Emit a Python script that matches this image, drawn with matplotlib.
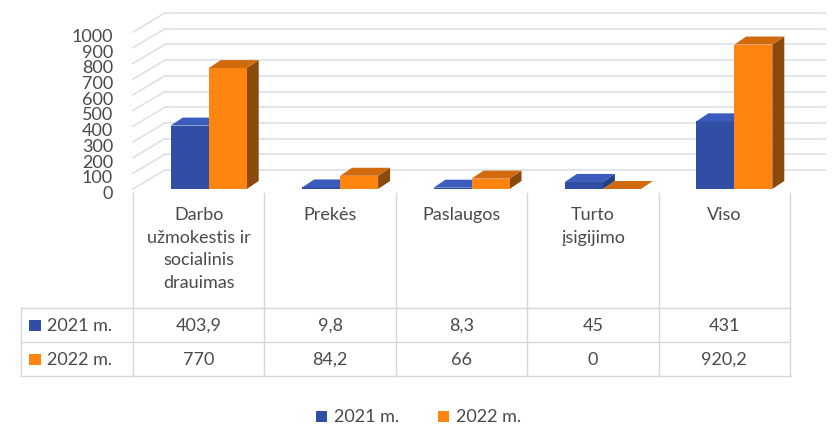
import matplotlib.pyplot as plt
from matplotlib.patches import Rectangle, Polygon
from matplotlib.transforms import offset_copy

# data
categories = ['Darbo\nužmokestis ir\nsocialinis\ndrauimas', 'Prekės', 'Paslaugos',
              'Turto\nįsigijimo', 'Viso']
series_names = ['2021 m.', '2022 m.']
values_2021 = [403.9, 9.8, 8.3, 45, 431]
values_2022 = [770, 84.2, 66, 0, 920.2]
labels_2021 = ['403,9', '9,8', '8,3', '45', '431']
labels_2022 = ['770', '84,2', '66', '0', '920,2']
yticks = list(range(0, 1001, 100))

W, H = 838, 428
plt.rcParams['font.family'] = ['Lato', 'DejaVu Sans']
txt_color = '#4a4a4a'
grid_color = '#dbe2ea'
line_color = '#d4d8dc'

fig = plt.figure(figsize=(W / 100, H / 100), dpi=100)
fig.patch.set_facecolor('white')

# overlay in pixel coords for the table and legend
ov = fig.add_axes([0, 0, 1, 1])
ov.set_xlim(0, W)
ov.set_ylim(H, 0)
ov.axis('off')

# chart axes: front plane
x_left, x_right = 133, 790
y_zero, y_top = 189, 32
ax = fig.add_axes([x_left / W, 1 - y_zero / H, (x_right - x_left) / W, (y_zero - y_top) / H])
ax.set_xlim(-0.5, len(categories) - 0.5)
ax.set_ylim(0, 1000)
ax.patch.set_alpha(0)
for s in ax.spines.values():
    s.set_visible(False)
ax.set_xticks([])
ax.set_yticks([])

# y labels, sitting a little below the front plane like the original
lab_tr = offset_copy(ax.get_yaxis_transform(), fig=fig, x=-20, y=-5, units='dots')
for v in yticks:
    ax.text(0, v, str(v), transform=lab_tr, ha='right', va='center',
            fontsize=13, color=txt_color)

px_x = (len(categories)) / (x_right - x_left)   # data units per pixel (x)
px_y = 1000 / (y_zero - y_top)                   # data units per pixel (y)

# back wall grid + left wall diagonals
wall_dx, wall_dy = 32 * px_x, 19 * px_y
back_right = len(categories) - 0.5 + 35 * px_x
for v in yticks:
    ax.plot([-0.5 + wall_dx, back_right], [v + wall_dy, v + wall_dy],
            color=grid_color, lw=1.2, clip_on=False, zorder=0)
    ax.plot([-0.5, -0.5 + wall_dx], [v, v + wall_dy],
            color=grid_color, lw=1.2, clip_on=False, zorder=0)

# fake 3D bars
bw = 38 * px_x
shift = 10 * px_x
dx, dy = 12 * px_x, 8 * px_y
styles = [
    dict(front='#2f4ea4', top='#3b5cbc', side='#243f88'),
    dict(front='#ff8410', top='#d06a0c', side='#8a4a0e'),
]


def bar3d(x0, h, st, z):
    ax.add_patch(Rectangle((x0, 0), bw, h, facecolor=st['front'], edgecolor='none',
                           zorder=z, clip_on=False))
    ax.add_patch(Polygon([(x0, h), (x0 + bw, h), (x0 + bw + dx, h + dy), (x0 + dx, h + dy)],
                         closed=True, facecolor=st['top'], edgecolor='none', zorder=z,
                         clip_on=False))
    ax.add_patch(Polygon([(x0 + bw, 0), (x0 + bw + dx, dy), (x0 + bw + dx, h + dy), (x0 + bw, h)],
                         closed=True, facecolor=st['side'], edgecolor='none', zorder=z - 0.5,
                         clip_on=False))


for i in range(len(categories)):
    c = i + shift
    bar3d(c - bw, values_2021[i], styles[0], 3)
    bar3d(c, values_2022[i], styles[1], 4)

# data table
col_edges = [x_left + i * (x_right - x_left) / len(categories) for i in range(len(categories) + 1)]
row_label_left = 21
y_head_top, y_r1, y_r2, y_r3 = 193, 308, 342, 376
for x in col_edges:
    ov.plot([x, x], [y_head_top, y_r3], color=line_color, lw=1)
ov.plot([row_label_left, row_label_left], [y_r1, y_r3], color=line_color, lw=1)
for y in (y_r1, y_r2, y_r3):
    ov.plot([row_label_left, x_right], [y, y], color=line_color, lw=1)

for i, cat in enumerate(categories):
    cx = (col_edges[i] + col_edges[i + 1]) / 2
    ov.text(cx, 207, cat, ha='center', va='top', fontsize=13, color=txt_color,
            linespacing=1.5)
    ov.text(cx, (y_r1 + y_r2) / 2 + 1, labels_2021[i], ha='center', va='center',
            fontsize=13, color=txt_color)
    ov.text(cx, (y_r2 + y_r3) / 2 + 1, labels_2022[i], ha='center', va='center',
            fontsize=13, color=txt_color)

for j, (name, st) in enumerate(zip(series_names, styles)):
    yc = (y_r1 + y_r2) / 2 if j == 0 else (y_r2 + y_r3) / 2
    ov.add_patch(Rectangle((29, yc - 5), 12, 11, facecolor=st['front'], edgecolor='none'))
    ov.text(47, yc + 1, name, ha='left', va='center', fontsize=13, color=txt_color)

# legend
leg_y = 416
for x_sq, name, st in zip([316, 438], series_names, styles):
    ov.add_patch(Rectangle((x_sq, leg_y - 5), 11, 11, facecolor=st['front'], edgecolor='none'))
    ov.text(x_sq + 18, leg_y + 1, name, ha='left', va='center', fontsize=13, color=txt_color)

fig.savefig('out.png', dpi=100)
